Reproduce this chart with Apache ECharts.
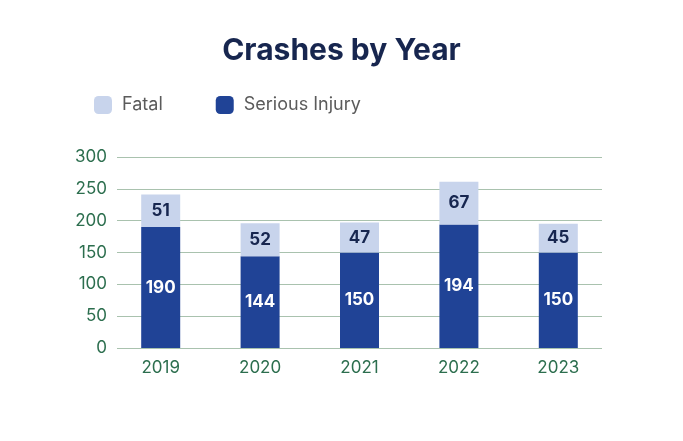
<!DOCTYPE html>
<html><head><meta charset="utf-8">
<script src="https://cdn.jsdelivr.net/npm/echarts@6/dist/echarts.min.js"></script>
<style>html,body{margin:0;padding:0;background:#fff}#c{width:683px;height:441px}</style>
</head><body><div id="c"></div>
<script>
const categories = ['2019','2020','2021','2022','2023'];
const seriousInjury = [190,144,150,194,150];
const fatal = [51,52,47,67,45];
const yTicks = [0,50,100,150,200,250,300];

const FONT = 'Inter, "Noto Sans", sans-serif';
const green = '#2c6e4e';
const chart = echarts.init(document.getElementById('c'));
chart.setOption({
  backgroundColor:'#fff',
  animation:false,
  title:{text:'Crashes by Year',left:'center',top:31,
    textStyle:{fontFamily:FONT,fontSize:30,fontWeight:'bold',color:'#17264f'}},
  legend:{data:['Fatal','Serious Injury'],left:94,top:96,padding:0,itemWidth:18,itemHeight:18,itemGap:53,
    itemStyle:{borderRadius:3},icon:'roundRect',
    textStyle:{fontFamily:FONT,fontSize:18,color:'#5b5b5b',padding:[0,0,0,5]}},
  grid:[
    {left:117,right:81,top:157,bottom:93},
    {left:111,right:75,top:157,bottom:93}
  ],
  xAxis:[
    {gridIndex:0,type:'category',data:categories,show:false},
    {gridIndex:1,type:'category',data:categories,
      axisLine:{show:false},axisTick:{show:false},
      axisLabel:{fontFamily:FONT,fontSize:17,color:green,margin:11}}
  ],
  yAxis:[
    {gridIndex:0,type:'value',min:yTicks[0],max:yTicks[yTicks.length-1],interval:50,
      axisLine:{show:false},axisTick:{show:false},
      splitLine:{lineStyle:{color:'#a9c2ae',width:1}},
      axisLabel:{fontFamily:FONT,fontSize:17,color:green,margin:10}},
    {gridIndex:1,type:'value',min:yTicks[0],max:yTicks[yTicks.length-1],interval:50,show:false,
      splitLine:{show:false}}
  ],
  series:[
    {name:'Serious Injury',type:'bar',stack:'t',xAxisIndex:1,yAxisIndex:1,data:seriousInjury,
      barWidth:39,itemStyle:{color:'#204396'},
      label:{show:true,position:'inside',color:'#fff',fontFamily:FONT,fontSize:17,fontWeight:'bold'}},
    {name:'Fatal',type:'bar',stack:'t',xAxisIndex:1,yAxisIndex:1,data:fatal,
      barWidth:39,itemStyle:{color:'#c8d4ec'},
      label:{show:true,position:'inside',color:'#17264f',fontFamily:FONT,fontSize:17,fontWeight:'bold'}}
  ]
});
</script></body></html>
